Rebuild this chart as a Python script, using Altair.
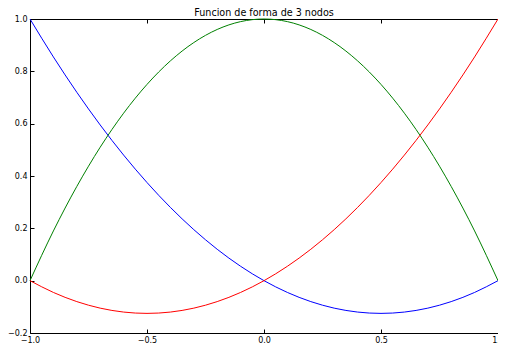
import altair as alt
import pandas as pd

# values at x = -1.0 ... 1.0 (step 0.1)
x_vals = [-1.0, -0.9, -0.8, -0.7, -0.6, -0.5, -0.4, -0.3, -0.2, -0.1, 0.0,
          0.1, 0.2, 0.3, 0.4, 0.5, 0.6, 0.7, 0.8, 0.9, 1.0]
blue_vals = [1.0, 0.855, 0.72, 0.595, 0.48, 0.375, 0.28, 0.195, 0.12, 0.055, 0.0,
             -0.045, -0.08, -0.105, -0.12, -0.125, -0.12, -0.105, -0.08, -0.045, 0.0]
green_vals = [0.0, 0.19, 0.36, 0.51, 0.64, 0.75, 0.84, 0.91, 0.96, 0.99, 1.0,
              0.99, 0.96, 0.91, 0.84, 0.75, 0.64, 0.51, 0.36, 0.19, 0.0]
red_vals = [0.0, -0.045, -0.08, -0.105, -0.12, -0.125, -0.12, -0.105, -0.08, -0.045, 0.0,
            0.055, 0.12, 0.195, 0.28, 0.375, 0.48, 0.595, 0.72, 0.855, 1.0]

series_names = ["N1", "N2", "N3"]
series_colors = ["#0000ff", "#008000", "#ff0000"]
x_ticks = [-1.0, -0.5, 0.0, 0.5, 1.0]
y_ticks = [-0.2, 0.0, 0.2, 0.4, 0.6, 0.8, 1.0]
title_text = "Funcion de forma de 3 nodos"

rows = []
for name, vals in zip(series_names, [blue_vals, green_vals, red_vals]):
    for xv, yv in zip(x_vals, vals):
        rows.append({"x": xv, "y": yv, "s": name})
df = pd.DataFrame(rows)

FONT = "DejaVu Sans"

x_scale = alt.Scale(domain=[-1, 1], nice=False, zero=False)
y_scale = alt.Scale(domain=[-0.2, 1.0], nice=False, zero=False)

common_axis = dict(grid=False, domain=False, ticks=True, tickColor="black",
                   tickSize=4, offset=-4, labelFont=FONT, labelFontSize=8,
                   labelColor="black", labelFlush=False, labelOverlap=False,
                   title=None)

y_axis = alt.Axis(values=y_ticks, format=".1f", labelPadding=3, **common_axis)

lines = alt.Chart(df).mark_line(strokeWidth=1, interpolate="monotone").encode(
    x=alt.X("x:Q", scale=x_scale,
            axis=alt.Axis(values=x_ticks, format=".1f", labelPadding=3, **common_axis)),
    y=alt.Y("y:Q", scale=y_scale, axis=y_axis),
    color=alt.Color("s:N", scale=alt.Scale(domain=series_names, range=series_colors),
                    legend=None),
    detail="s:N",
)

top_ticks = alt.Chart(df).mark_line(opacity=0).encode(
    x=alt.X("x:Q", scale=x_scale,
            axis=alt.Axis(orient="top", values=x_ticks, labels=False, **common_axis)),
    y=alt.Y("y:Q", scale=y_scale, axis=y_axis),
    detail="s:N",
)

chart = alt.layer(lines, top_ticks).resolve_axis(x="independent").properties(
    width=468,
    height=314,
    autosize=alt.AutoSizeParams(type="none"),
    padding={"left": 22, "top": 11, "right": 0, "bottom": 12},
    title=alt.TitleParams(title_text, font=FONT, fontSize=9.6, fontWeight="normal",
                          color="black", offset=4, dy=7, anchor="middle"),
).configure_view(stroke="black", strokeWidth=1)

chart.save("out.html", embed_options={"renderer": "svg", "actions": False})
